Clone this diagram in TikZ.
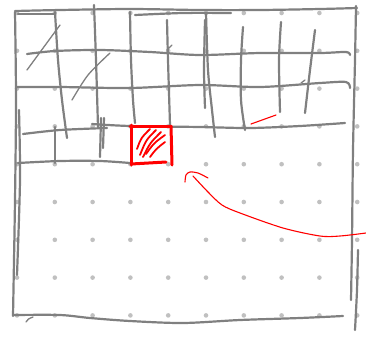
\documentclass[tikz,border=0pt]{standalone}
\definecolor{pen}{RGB}{128,128,128}
\definecolor{dotc}{RGB}{192,192,192}
\begin{document}
\begin{tikzpicture}[x=1pt,y=-1pt,line cap=round,line join=round,
  gr/.style={draw=pen,line width=2.2pt},
  grt/.style={draw=pen,line width=1.3pt},
  rd/.style={draw=red,line width=3pt},
  rdt/.style={draw=red,line width=1.1pt},
  rdh/.style={draw=red,line width=1.8pt}]
\useasboundingbox[fill=white] (0,0) rectangle (366,338);
% dots
\foreach \i in {0,...,9}{\foreach \j in {0,...,8}{
  \fill[dotc] (17+37.8*\i,13+37.8*\j) circle (2.3);}}
% frame
\draw[gr] plot[smooth] coordinates {(15,11) (60,10) (130,9) (200,10) (260,10) (320,9) (357,8)};
\draw[gr] plot[smooth] coordinates {(18,14) (40,14) (55,14)};
\draw[gr] plot[smooth] coordinates {(135,15) (183,13) (231,13)};
\draw[gr] plot[smooth] coordinates {(15,12) (16,100) (15,200) (13,316)};
\draw[gr] plot[smooth] coordinates {(19,110) (20,180) (17,275)};
\draw[gr] plot[smooth] coordinates {(13,315) (60,315) (90,318) (130,321) (183,323) (240,320) (300,318) (343,316)};
\draw[grt] (26,322) .. controls (28,319) .. (33,317);
\draw[gr] plot[smooth] coordinates {(356,6) (355,60) (353,150) (352,240) (351,300)};
\draw[gr] plot[smooth] coordinates {(358,250) (357,290) (355,330)};
% horizontals
\draw[gr] plot[smooth] coordinates {(27,54) (55,51) (100,50) (150,52) (200,55) (260,53) (320,53) (346,52) (350,55)};
\draw[gr] plot[smooth] coordinates {(17,87) (60,87) (130,88) (200,85) (260,87) (320,83) (346,82) (350,88)};
\draw[gr] plot[smooth] coordinates {(23,134) (60,130) (107,128)};
\draw[gr] plot[smooth] coordinates {(92,124) (130,126) (200,127) (250,128) (300,126) (345,123)};
\draw[gr] plot[smooth] coordinates {(18,163) (60,161) (100,161) (130,163)};
% verticals
\draw[gr] plot[smooth] coordinates {(55,12) (58,60) (62,100) (67,138)};
\draw[gr] (55,127) -- (55,163);
\draw[gr] plot[smooth] coordinates {(94,5) (96,60) (98,127)};
\draw[gr] (101,118) -- (100,157);
\draw[gr] (104,118) -- (103,148);
\draw[gr] plot[smooth] coordinates {(130,12) (131,60) (133,100) (135,123)};
\draw[gr] plot[smooth] coordinates {(167,20) (168,60) (170,125)};
\draw[gr] plot[smooth] coordinates {(206,13) (208,70) (212,110) (215,137)};
\draw[gr] plot[smooth] coordinates {(205,20) (204,70) (205,108)};
\draw[gr] plot[smooth] coordinates {(243,27) (241,60) (241,100) (245,130)};
\draw[gr] plot[smooth] coordinates {(281,22) (279,60) (280,112)};
\draw[gr] plot[smooth] coordinates {(315,30) (310,70) (305,113)};
% diagonals
\draw[grt] (27,70) -- (60,25);
\draw[grt] plot[smooth] coordinates {(72,100) (88,75) (110,53)};
\draw[grt] (167,50) -- (172,45);
\draw[grt] (301,83) -- (305,80);
% red box
\draw[rd] (131,125) -- (131,165);
\draw[rd] (130,126) -- (171,126);
\draw[rd] (171,126) -- (172,165);
\draw[rd] (131,164) -- (166,162);
\draw[rdh] (137,149) .. controls (141,138) .. (150,129);
\draw[rdh] (140,155) .. controls (146,140) .. (156,130);
\draw[rdh] (143,157) .. controls (150,143) .. (161,132);
\draw[rdh] (146,154) .. controls (154,143) .. (165,135);
\draw[rdh] (150,157) .. controls (156,149) .. (165,142);
% small red line
\draw[rdt] (251,124) -- (276,115);
% red arrow
\draw[rdt] plot[smooth] coordinates {(366,233) (340,236) (320,236) (283,228) (240,213) (222,205) (208,192) (193,176)};
\draw[rdt] plot[smooth] coordinates {(185,182) (186,175) (190,172) (198,173) (208,178)};
\end{tikzpicture}
\end{document}
